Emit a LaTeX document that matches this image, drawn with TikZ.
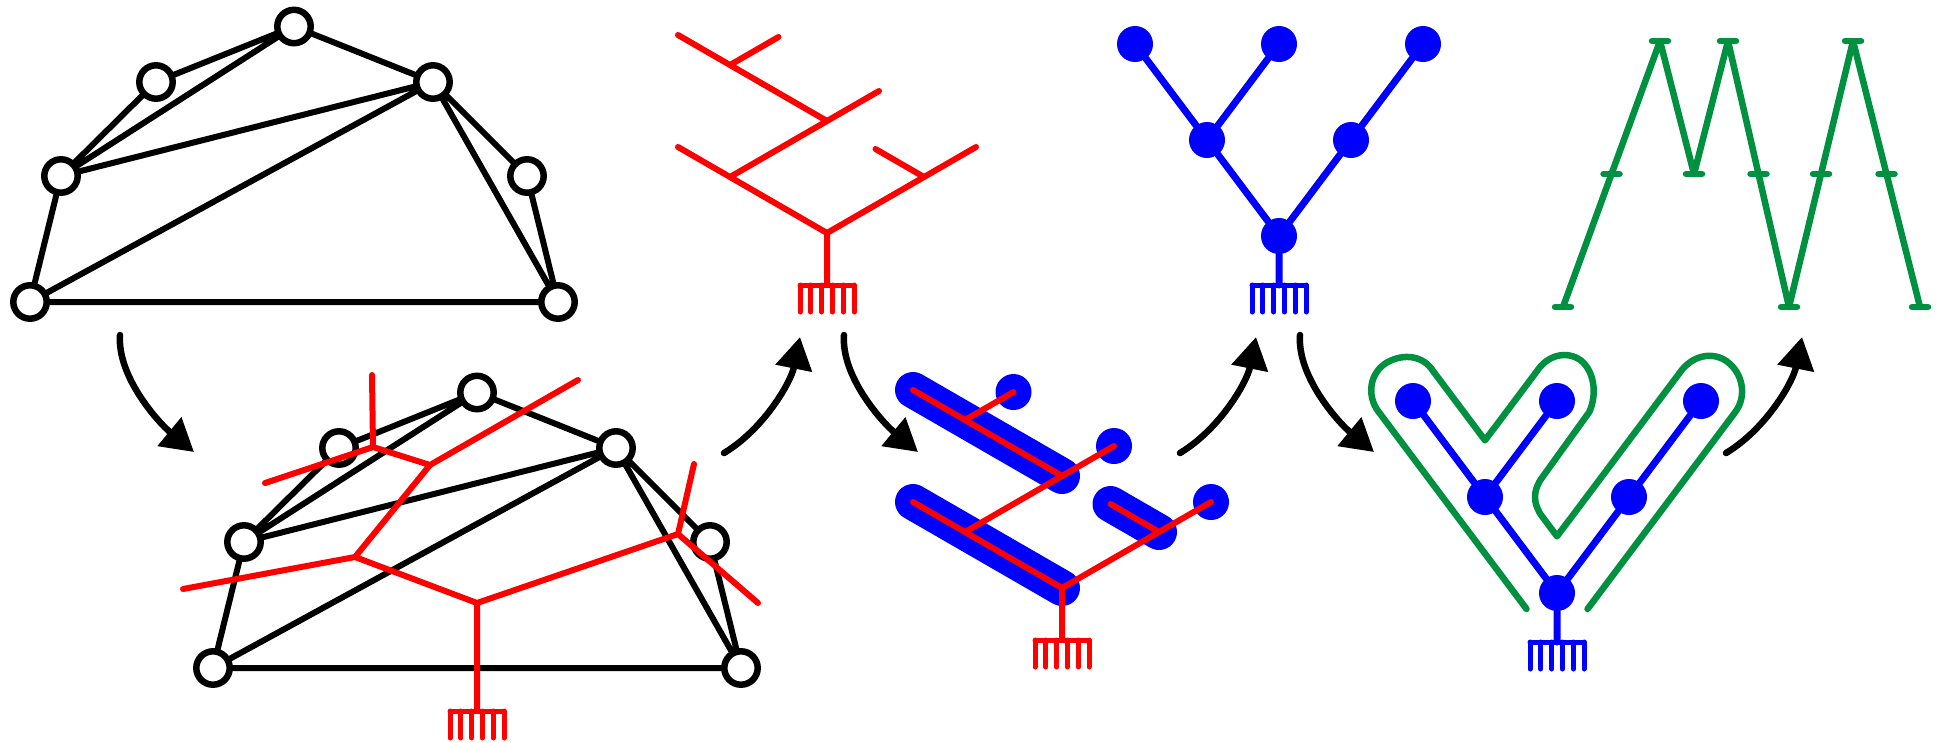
\documentclass[tikz,border=0pt]{standalone}
\usetikzlibrary{arrows.meta}
\definecolor{grn}{RGB}{0,145,64}
\tikzset{
  gnode/.style={circle,draw=black,fill=white,line width=6.5pt,minimum size=33.4pt,inner sep=0pt},
  gedge/.style={black,line width=6pt},
  rtree/.style={red,line width=6pt},
  btree/.style={blue,line width=7pt},
  bdot/.style={circle,fill=blue,minimum size=36pt,inner sep=0pt},
  capsule/.style={blue,line width=36pt},
  flow/.style={black,line width=6.5pt,-{Triangle[length=32pt,width=36pt]}},
  gline/.style={grn,line width=6.5pt},
  rake/.pic={
    \draw[line width=5pt] (-27,0) -- (27,0);
    \foreach \k in {0,...,5} \draw[line width=5pt] ({-27+10.8*\k},0) -- ({-27+10.8*\k},27);
  }
}
\begin{document}
\begin{tikzpicture}[x=1pt,y=-1pt,line cap=round,line join=round]
\useasboundingbox (0,0) rectangle (1939,742);

% ---------- graph 1 ----------
\node[gnode] (A) at (30,302) {};
\node[gnode] (B) at (61,176) {};
\node[gnode] (C) at (156,82) {};
\node[gnode] (D) at (294,26.5) {};
\node[gnode] (E) at (433,82) {};
\node[gnode] (F) at (527,176) {};
\node[gnode] (G) at (558,302) {};
\draw[gedge] (A)--(B) (A)--(G) (A)--(E) (B)--(C) (B)--(D) (B)--(E) (C)--(D) (D)--(E) (E)--(F) (E)--(G) (F)--(G);

% ---------- graph 2 ----------
\node[gnode] (A2) at (213,668) {};
\node[gnode] (B2) at (244,542) {};
\node[gnode] (C2) at (339,448) {};
\node[gnode] (D2) at (477,392.5) {};
\node[gnode] (E2) at (616,448) {};
\node[gnode] (F2) at (710,542) {};
\node[gnode] (G2) at (741,668) {};
\draw[gedge] (A2)--(B2) (A2)--(G2) (A2)--(E2) (B2)--(C2) (B2)--(D2) (B2)--(E2) (C2)--(D2) (D2)--(E2) (E2)--(F2) (E2)--(G2) (F2)--(G2);

\coordinate (t1) at (372,375);
\coordinate (J1) at (373,447);
\coordinate (l1) at (265,483);
\coordinate (J2) at (430,465);
\coordinate (e2) at (578,380);
\coordinate (J3) at (355,557);
\coordinate (l3) at (183,589);
\coordinate (J4) at (477,603);
\coordinate (J5) at (678,534);
\coordinate (t5) at (694,464);
\coordinate (e5) at (758,603);
\coordinate (c1) at (477,711);
\draw[rtree] (t1)--(J1) (l1)--(J1)--(J2)--(e2) (J2)--(J3)--(l3) (J3)--(J4)--(J5)--(t5) (J5)--(e5) (J4)--(c1);
\pic[red] at (c1) {rake};

% ---------- top red tree ----------
\coordinate (R) at (827,233);
\coordinate (L1) at (678,147);
\coordinate (a1) at (730,177);
\coordinate (a1e) at (879,91);
\coordinate (a2) at (827,121);
\coordinate (a2e) at (678,35);
\coordinate (a3) at (730,65);
\coordinate (a3e) at (778.5,37);
\coordinate (re) at (976,147);
\coordinate (b1) at (924,177);
\coordinate (b1e) at (875.5,149);
\coordinate (c2) at (827,285);
\draw[rtree] (R)--(L1) (a1)--(a1e) (a2)--(a2e) (a3)--(a3e) (R)--(re) (b1)--(b1e) (R)--(c2);
\pic[red] at (c2) {rake};

% ---------- bottom middle: capsules ----------
\coordinate (mR) at (1062,588);
\coordinate (mL1) at (913,502);
\coordinate (ma1) at (965,532);
\coordinate (ma2) at (1062,476);
\coordinate (ma2e) at (913,390);
\coordinate (ma3) at (965,420);
\coordinate (mb1) at (1159,532);
\coordinate (mb1e) at (1110.5,504);
\coordinate (c3) at (1062,640);
\draw[capsule] (mR)--(mL1) (ma2)--(ma2e) (mb1)--(mb1e);
\node[bdot] (md1) at (1013.5,392) {};
\node[bdot] (md2) at (1114,446) {};
\node[bdot] (md3) at (1211,502) {};
\draw[rtree] (mR)--(mL1) (ma1)--(md2.center) (ma2)--(ma2e) (ma3)--(md1.center) (mR)--(md3.center) (mb1)--(mb1e) (mR)--(c3);
\pic[red] at (c3) {rake};

% ---------- top blue tree ----------
\node[bdot] (br) at (1279,236) {};
\node[bdot] (bP) at (1207,140) {};
\node[bdot] (bL) at (1135,44) {};
\node[bdot] (bM) at (1279,44) {};
\node[bdot] (bQ) at (1351,140) {};
\node[bdot] (bN) at (1423,44) {};
\coordinate (c4) at (1279,285);
\draw[btree] (br)--(bP)--(bL) (bP)--(bM) (br)--(bQ)--(bN) (br)--(c4);
\pic[blue] at (c4) {rake};

% ---------- bottom right blue tree ----------
\node[bdot] (kr) at (1557,593) {};
\node[bdot] (kP) at (1485,497) {};
\node[bdot] (kL) at (1413,401) {};
\node[bdot] (kM) at (1557,401) {};
\node[bdot] (kQ) at (1629,497) {};
\node[bdot] (kN) at (1701,401) {};
\coordinate (c5) at (1557,642);
\draw[btree] (kr)--(kP)--(kL) (kP)--(kM) (kr)--(kQ)--(kN) (kr)--(c5);
\pic[blue] at (c5) {rake};

\draw[gline] (1526.5,609) -- (1378.6,411.8)
  .. controls (1366.3,395.8) and (1369.4,372.5) .. (1387.4,362.2)
  .. controls (1404.4,352.9) and (1423.7,356.0) .. (1433.0,371.0)
  -- (1485,440.3) -- (1537.0,371.0)
  .. controls (1548.3,354.0) and (1567.6,350.9) .. (1580.6,360.2)
  .. controls (1593.6,370.5) and (1597.7,392.8) .. (1589.4,411.8)
  -- (1542.5,477) .. controls (1532.5,490.3) and (1532.5,503.7) .. (1542.5,517)
  -- (1557,536.3) -- (1681.0,371.0)
  .. controls (1692.3,356.0) and (1711.6,350.9) .. (1726.6,361.2)
  .. controls (1743.6,373.5) and (1746.7,396.8) .. (1735.4,411.8)
  -- (1587.5,609);

% ---------- green mountain path ----------
\coordinate (v0) at (1563,307);
\coordinate (v1) at (1611.5,174);
\coordinate (v2) at (1660,41);
\coordinate (v3) at (1694,174);
\coordinate (v4) at (1728,41);
\coordinate (v5) at (1758.5,174);
\coordinate (v6) at (1789,307);
\coordinate (v7) at (1821,174);
\coordinate (v8) at (1853,41);
\coordinate (v9) at (1886.5,174);
\coordinate (v10) at (1920,307);
\draw[gline] (v0)--(v2)--(v3)--(v4)--(v6)--(v8)--(v10);
\foreach \v in {v0,v1,v2,v3,v4,v5,v6,v7,v8,v9,v10}
  \draw[gline] ([xshift=-8pt]\v) -- ([xshift=8pt]\v);

% ---------- arrows ----------
\coordinate (s1) at (120,335); \coordinate (e1) at (194,452);
\draw[flow] (s1) .. controls (117,377) and (159,423) .. (e1);
\coordinate (s2) at (724,453); \coordinate (e2a) at (800,337);
\draw[flow] (s2) .. controls (764,429) and (791,382) .. (e2a);
\coordinate (s3) at (844,335); \coordinate (e3) at (918,452);
\draw[flow] (s3) .. controls (841,377) and (883,423) .. (e3);
\coordinate (s4) at (1180,453); \coordinate (e4) at (1256,337);
\draw[flow] (s4) .. controls (1220,429) and (1247,382) .. (e4);
\coordinate (s5) at (1300,335); \coordinate (e5a) at (1374,452);
\draw[flow] (s5) .. controls (1297,377) and (1339,423) .. (e5a);
\coordinate (s6) at (1726,453); \coordinate (e6) at (1802,337);
\draw[flow] (s6) .. controls (1766,429) and (1793,382) .. (e6);
\end{tikzpicture}
\end{document}
